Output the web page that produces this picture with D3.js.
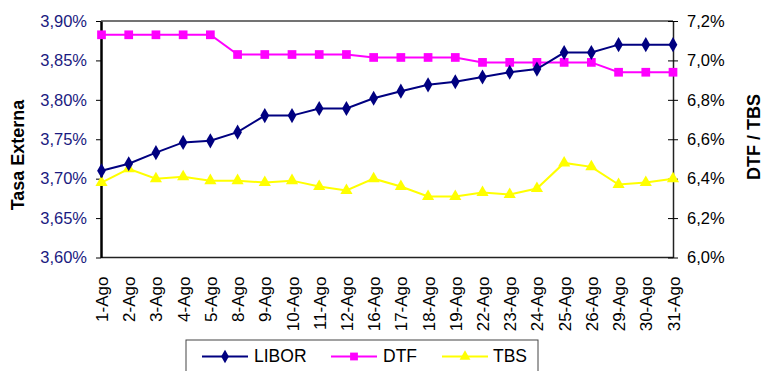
<!DOCTYPE html>
<html>
<head>
<meta charset="utf-8">
<script src="https://cdn.jsdelivr.net/npm/d3@7"></script>
<style>
  html, body { margin: 0; padding: 0; background: #fff; }
  svg { display: block; font-family: "Liberation Sans", Arial, sans-serif; }
</style>
</head>
<body>
<svg id="chart" width="764" height="371"></svg>
<script>
// Fechas de agosto
const dates = ["1-Ago","2-Ago","3-Ago","4-Ago","5-Ago","8-Ago","9-Ago","10-Ago","11-Ago","12-Ago",
  "16-Ago","17-Ago","18-Ago","19-Ago","22-Ago","23-Ago","24-Ago","25-Ago","26-Ago","29-Ago","30-Ago","31-Ago"];

// Tasa externa (%), eje izquierdo
const libor = [3.710,3.719,3.733,3.746,3.748,3.759,3.780,3.780,3.789,3.789,
  3.802,3.811,3.819,3.823,3.829,3.835,3.839,3.860,3.860,3.870,3.870,3.870];

// Tasas internas (%), eje derecho
const dtf = [7.13,7.13,7.13,7.13,7.13,7.03,7.03,7.03,7.03,7.03,
  7.015,7.015,7.015,7.015,6.99,6.99,6.99,6.99,6.99,6.94,6.94,6.94];
const tbs = [6.38,6.45,6.40,6.41,6.39,6.39,6.38,6.39,6.36,6.34,
  6.40,6.36,6.31,6.31,6.33,6.32,6.35,6.48,6.46,6.37,6.38,6.40];

const leftTicks = [3.60,3.65,3.70,3.75,3.80,3.85,3.90];
const leftTickLabels = ["3,60%","3,65%","3,70%","3,75%","3,80%","3,85%","3,90%"];
const rightTicks = [6.0,6.2,6.4,6.6,6.8,7.0,7.2];
const rightTickLabels = ["6,0%","6,2%","6,4%","6,6%","6,8%","7,0%","7,2%"];

const seriesNames = ["LIBOR","DTF","TBS"];
const seriesColors = ["#000080","#FF00FF","#FFFF00"];

const svg = d3.select("#chart");
const plot = { left: 101, right: 673, top: 21, bottom: 257.5 };

const x = d3.scalePoint().domain(dates).range([plot.left + 0.5, plot.right]).padding(0);
const yL = d3.scaleLinear().domain([3.60, 3.90]).range([plot.bottom, plot.top]);
const yR = d3.scaleLinear().domain([6.0, 7.2]).range([plot.bottom, plot.top]);

// Marco superior del área de trazado
svg.append("line")
  .attr("x1", plot.left).attr("x2", plot.right)
  .attr("y1", plot.top).attr("y2", plot.top)
  .attr("stroke", "#444").attr("stroke-width", 1.5);

// Eje X (línea base)
svg.append("line")
  .attr("x1", plot.left).attr("x2", plot.right)
  .attr("y1", plot.bottom).attr("y2", plot.bottom)
  .attr("stroke", "#222").attr("stroke-width", 1.5);

// Eje izquierdo
const axL = svg.append("g")
  .attr("transform", `translate(${plot.left},0)`)
  .call(d3.axisLeft(yL).tickValues(leftTicks)
    .tickFormat((d, i) => leftTickLabels[i])
    .tickSizeInner(5).tickSizeOuter(0).tickPadding(9));
axL.select(".domain").attr("stroke", "#000").attr("stroke-width", 2.5);
axL.selectAll(".tick line").attr("stroke", "#000");
axL.selectAll(".tick text")
  .attr("fill", "#1a1a80").attr("font-size", 16.5)
  .attr("font-family", "Liberation Sans, Arial, sans-serif");

// Eje derecho
const axR = svg.append("g")
  .attr("transform", `translate(${plot.right},0)`)
  .call(d3.axisRight(yR).tickValues(rightTicks)
    .tickFormat((d, i) => rightTickLabels[i])
    .tickSizeInner(5).tickSizeOuter(0).tickPadding(9));
axR.select(".domain").attr("stroke", "#222").attr("stroke-width", 1.5);
axR.selectAll(".tick line").attr("x1", -5).attr("x2", 5).attr("stroke", "#000");
axR.selectAll(".tick text")
  .attr("fill", "#000").attr("font-size", 16.5)
  .attr("font-family", "Liberation Sans, Arial, sans-serif");

// Etiquetas del eje X, giradas
const axX = svg.append("g")
  .attr("transform", `translate(0,${plot.bottom})`)
  .call(d3.axisBottom(x).tickSize(0).tickPadding(0));
axX.select(".domain").remove();
axX.selectAll(".tick text")
  .attr("font-size", 17)
  .attr("font-family", "Liberation Sans, Arial, sans-serif")
  .attr("fill", "#000")
  .attr("text-anchor", "end")
  .attr("dy", null)
  .attr("y", 0)
  .attr("transform", "translate(6,19) rotate(-90)");

// Títulos de los ejes
svg.append("text")
  .attr("transform", `translate(24,155) rotate(-90)`)
  .attr("text-anchor", "middle")
  .attr("font-size", 18).attr("font-weight", "bold")
  .text("Tasa Externa");
svg.append("text")
  .attr("transform", `translate(760,137) rotate(-90)`)
  .attr("text-anchor", "middle")
  .attr("font-size", 18).attr("font-weight", "bold")
  .text("DTF / TBS");

// Series
const series = [
  { name: "LIBOR", values: libor, y: yL, symbol: d3.symbolDiamond, size: 66, color: seriesColors[0] },
  { name: "DTF", values: dtf, y: yR, symbol: d3.symbolSquare, size: 76, color: seriesColors[1] },
  { name: "TBS", values: tbs, y: yR, symbol: d3.symbolTriangle, size: 64, color: seriesColors[2] }
];

// Orden de dibujo: TBS, DTF, LIBOR
[series[2], series[1], series[0]].forEach(s => {
  const line = d3.line().x((d, i) => x(dates[i])).y(d => s.y(d));
  svg.append("path")
    .datum(s.values)
    .attr("fill", "none")
    .attr("stroke", s.color)
    .attr("stroke-width", 2)
    .attr("d", line);
  svg.append("g").selectAll("path")
    .data(s.values)
    .join("path")
    .attr("transform", (d, i) => `translate(${x(dates[i])},${s.y(d)})`)
    .attr("d", d3.symbol().type(s.symbol).size(s.size))
    .attr("fill", s.color);
});

// Leyenda
const legend = svg.append("g");
legend.append("rect")
  .attr("x", 186).attr("y", 340).attr("width", 352).attr("height", 40)
  .attr("fill", "#fff").attr("stroke", "#444").attr("stroke-width", 1);
const legendItems = [
  { x1: 202, x2: 248, tx: 254 },
  { x1: 331, x2: 377, tx: 383 },
  { x1: 442, x2: 488, tx: 493 }
];
series.forEach((s, i) => {
  const it = legendItems[i];
  const ly = 356.5;
  legend.append("line")
    .attr("x1", it.x1).attr("x2", it.x2).attr("y1", ly).attr("y2", ly)
    .attr("stroke", s.color).attr("stroke-width", 2);
  legend.append("path")
    .attr("transform", `translate(${(it.x1 + it.x2) / 2},${ly})`)
    .attr("d", d3.symbol().type(s.symbol).size(s.size * 0.8))
    .attr("fill", s.color);
  legend.append("text")
    .attr("x", it.tx).attr("y", 362)
    .attr("font-size", 17.5)
    .attr("fill", "#000")
    .text(seriesNames[i]);
});
</script>
</body>
</html>
